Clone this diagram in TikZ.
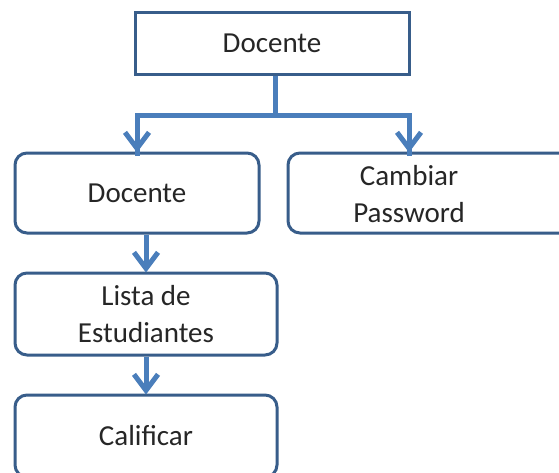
\documentclass[tikz,border=0pt]{standalone}
\usepackage{fontspec}
\setmainfont{Carlito}
\usetikzlibrary{arrows.meta}
\definecolor{boxline}{HTML}{385D8A}
\definecolor{arrowblue}{HTML}{4A7EBB}
\definecolor{textcol}{HTML}{262626}
\begin{document}
\begin{tikzpicture}[x=1pt,y=-1pt,
  every node/.style={font=\fontsize{29}{37}\selectfont, text=textcol, align=center, inner sep=0pt},
  boxsq/.style={draw=boxline, line width=3pt, fill=white},
  boxrd/.style={draw=boxline, line width=3pt, fill=white, rounded corners=12pt},
  conn/.style={draw=arrowblue, line width=5pt},
  arr/.style={conn, -{Straight Barb[length=16pt,width=24pt,line width=5pt]}}]
\useasboundingbox (0,0) rectangle (559,472);
\clip (0,0) rectangle (559,472);
\fill[white] (0,0) rectangle (559,472);
\node[boxsq, minimum width=274pt, minimum height=62pt] (top) at (272,43) {Docente};
\node[boxrd, minimum width=244pt, minimum height=80pt] (doc) at (137,193) {Docente};
\node[boxrd, minimum width=287pt, minimum height=80pt] (cpbox) at (431.5,193) {};
\node (cp) at (409,194) {Cambiar\\Password};
\node[boxrd, minimum width=262pt, minimum height=82pt] (lista) at (146,314) {Lista de\\Estudiantes};
\node[boxrd, minimum width=262pt, minimum height=82pt] (cal) at (146,436) {Calificar};
\coordinate (split) at (275,115);
\draw[conn] (top.south -| split) -- (split);
\draw[conn] (split) -| ([yshift=-4pt]doc.north);
\draw[conn] (split) -| ([yshift=-4pt]cp.north |- cpbox.north);
\draw[arr] (split -| doc.north) -- ([yshift=-1pt]doc.north);
\draw[arr] (split -| cp.north) -- ([yshift=-1pt]cp.north |- cpbox.north);
\draw[arr] (lista.north |- doc.south) -- ([yshift=-1pt]lista.north);
\draw[arr] (lista.south) -- ([yshift=-1pt]cal.north);
\end{tikzpicture}
\end{document}
